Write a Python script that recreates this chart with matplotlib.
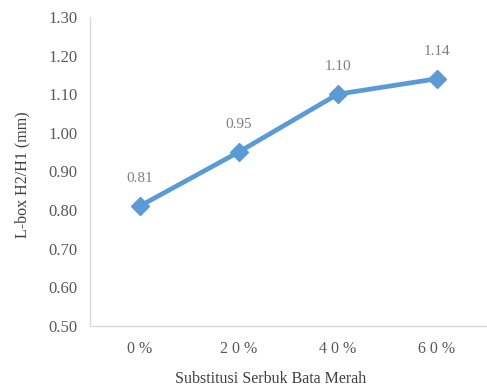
import matplotlib.pyplot as plt

# L-box ratio against red brick powder substitution
categories = ['0 %', '2 0 %', '4 0 %', '6 0 %']
lbox_ratio = [0.81, 0.95, 1.10, 1.14]
y_ticks = [0.50, 0.60, 0.70, 0.80, 0.90, 1.00, 1.10, 1.20, 1.30]

plt.rcParams['font.family'] = ['Liberation Serif', 'DejaVu Serif']

fig = plt.figure(figsize=(4.87, 3.87), dpi=100)
ax = fig.add_axes([0.185, 0.158, 0.813, 0.798])

xs = range(len(categories))
ax.plot(xs, lbox_ratio, color='#5B9BD5', linewidth=3.4, marker='D',
        markersize=9.5, solid_capstyle='round')

for x, v in zip(xs, lbox_ratio):
    ax.annotate(f'{v:.2f}', (x, v), xytext=(0, 20), textcoords='offset points',
                ha='center', va='center', fontsize=11, color='#7F7F7F')

ax.set_xlim(-0.5, len(categories) - 0.5)
ax.set_ylim(0.50, 1.30)
ax.set_xticks(list(xs))
ax.set_xticklabels(categories)
ax.set_yticks(y_ticks)
ax.set_yticklabels([f'{t:.2f}' for t in y_ticks])

ax.tick_params(axis='both', length=0, labelcolor='#595959')
ax.tick_params(axis='x', pad=11, labelsize=11.5)
ax.tick_params(axis='y', pad=9, labelsize=12)

for side in ['top', 'right']:
    ax.spines[side].set_visible(False)
for side in ['left', 'bottom']:
    ax.spines[side].set_color('#D9D9D9')
    ax.spines[side].set_linewidth(1)

ax.set_xlabel('Substitusi Serbuk Bata Merah', fontsize=11.5, color='#404040', labelpad=10)
ax.xaxis.label.set_x(0.455)
ax.set_ylabel('L-box H2/H1 (mm)', fontsize=11.5, color='#404040', labelpad=13)
ax.yaxis.label.set_y(0.49)

fig.savefig('out.png', dpi=100)
